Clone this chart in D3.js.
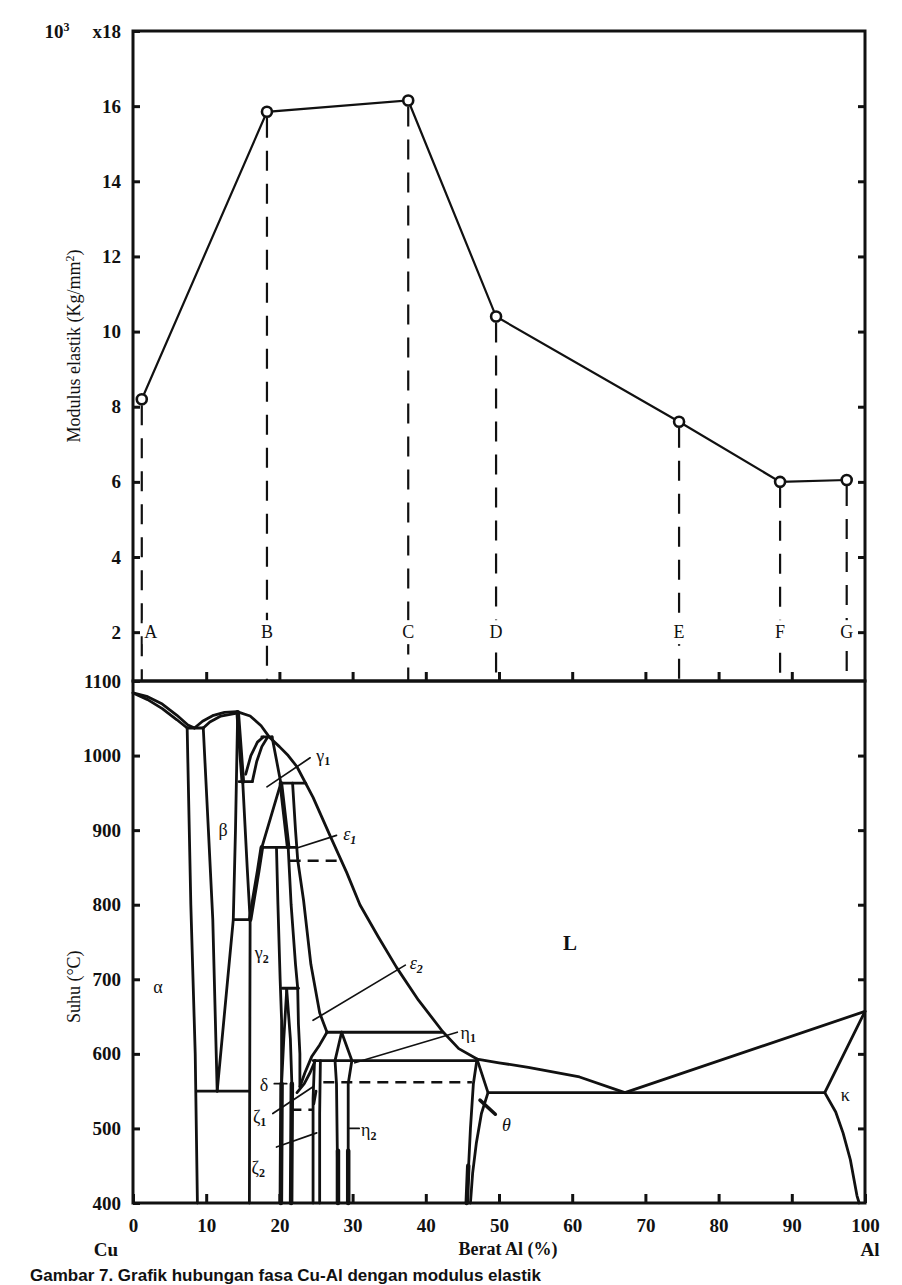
<!DOCTYPE html>
<html>
<head>
<meta charset="utf-8">
<script src="https://cdn.jsdelivr.net/npm/d3@7/dist/d3.min.js"></script>
<style>
  body { margin: 0; background: #fff; overflow: hidden; }
  svg { display: block; }
  text { font-family: "Liberation Serif", "Times New Roman", serif; fill: #111; }
</style>
</head>
<body>
<script>
// ---- data ----
const alloys = ['A', 'B', 'C', 'D', 'E', 'F', 'G'];
const alPct = [1.2, 18.3, 37.6, 49.6, 74.6, 88.4, 97.5];
const modulus = [8.2, 15.85, 16.15, 10.4, 7.6, 6.0, 6.05];

const modTicks = [2, 4, 6, 8, 10, 12, 14, 16, 18];
const tempTicks = [400, 500, 600, 700, 800, 900, 1000, 1100];
const pctTicks = [0, 10, 20, 30, 40, 50, 60, 70, 80, 90, 100];

// phase boundaries, [wt% Al, degC]
const phaseLines = [
  [[0,1084],[2,1079],[4,1069],[6,1054],[7.5,1041],[8.4,1037]],
  [[0,1084],[2,1075],[4,1063],[6,1048],[7.4,1037]],
  [[7.4,1037],[9.6,1037]],
  [[8.4,1037],[9.5,1046],[11,1054],[12.5,1058],[14.2,1059],[16,1053],[17.5,1040],[18.6,1025],[20,1012],[21.2,1000],[22.4,985],[24.6,944],[26.9,893],[29.2,843],[31,800],[33.5,757],[36,716],[39,672],[42.3,630],[44.5,607],[47,593],[50,588],[54,582],[61,569],[67.2,548]],
  [[9.6,1037],[10.5,1045],[12,1053],[14.2,1057]],
  [[7.4,1037],[7.9,800],[8.5,600],[8.8,400]],
  [[9.6,1037],[10.3,900],[10.9,780],[11.5,550]],
  [[14.3,1057],[14,900],[13.7,780],[11.5,550]],
  [[8.7,550],[15.9,550]],
  [[13.7,780],[16,780]],
  [[16,780],[15.9,400]],
  [[15,963],[15.6,850],[16,780]],
  [[14.5,965],[16.3,965]],
  [[16.3,965],[16.9,992],[17.6,1012],[18.4,1025]],
  [[15.4,975],[16.1,1000],[17,1018],[17.8,1025]],
  [[17.6,1025],[19,1025]],
  [[19,1025],[20.2,963]],
  [[20.2,963],[23.6,963]],
  [[20.2,963],[17.6,877]],
  [[17.6,877],[22.4,877]],
  [[19.6,877],[19.8,800],[20.1,700],[20.3,645],[20.3,560],[20.2,400]],
  [[21.2,877],[21.6,800],[22.2,720],[22.5,688]],
  [[21.8,963],[22.2,900],[22.5,860],[23.3,806],[24.3,720],[25.5,655],[26.5,629]],
  [[20.4,688],[22.6,688]],
  [[21,686],[20.6,620],[20.3,560]],
  [[21,686],[21.5,620],[21.7,560],[21.6,400]],
  [[22.5,688],[22.6,640],[22.8,600],[22.8,556]],
  [[26.5,629],[25.5,612],[24.4,596],[23.5,575],[22.8,556]],
  [[26.5,629],[42.3,629]],
  [[28.5,629],[27.6,591]],
  [[28.5,629],[29.9,591]],
  [[24.6,591],[47,591]],
  [[24.9,591],[24.2,575],[23.4,560],[22.4,548]],
  [[24.8,591],[24.6,540],[24.6,400]],
  [[25.6,591],[25.5,520],[25.5,400]],
  [[27.6,591],[27.8,560],[28,400]],
  [[29.9,591],[29.4,560],[29.4,400]],
  [[47,593],[46.5,560],[46.1,500],[45.6,400]],
  [[47,593],[48.5,548],[47.6,520],[46.9,480],[46.4,440],[46.1,400]],
  [[48.5,548],[94.5,548]],
  [[67.2,548],[100,657]],
  [[94.5,548],[100,657]],
  [[94.5,548],[96,522],[97,494],[98,458],[98.9,410],[99.2,400]],
  [[24.7,533],[25,550]]
];

const heavyLines = [
  [[14.3,1058],[15,965]],
  [[20.2,963],[20.7,920],[21.2,877]],
  [[16,780],[16.5,810],[17.1,845],[17.6,877]],
  [[20.3,560],[20.2,400]],
  [[21.7,560],[21.6,400]],
  [[45.8,450],[45.6,400]],
  [[28,470],[28,400]],
  [[29.4,470],[29.4,400]]
];

const dashedLines = [
  [[21.4,859],[28.4,859]],
  [[26,562],[46.3,562]],
  [[21.5,525],[24.6,525]]
];

const leaderLines = [
  [[18.3,958],[24.2,997]],
  [[22.4,876],[27.8,893]],
  [[24.6,645],[37.2,719]],
  [[30.3,588],[44.3,629]],
  [[29.4,500],[30.9,500]],
  [[19.3,560],[21,560]],
  [[19.1,520],[24.6,556]],
  [[19.6,475],[25.1,494]]
];
const thetaArrow = [[47.4,538],[49.5,519]];

const phaseNames = ['α', 'β', 'γ', 'γ', 'ε', 'ε', 'η', 'η', 'θ', 'L', 'κ', 'δ', 'ζ', 'ζ'];
const phaseSubs  = ['', '', '2', '1', '1', '2', '1', '2', '', '', '', '', '1', '2'];
const phaseAt    = [[3.4,690],[12.3,900],[17.6,735],[26,1000],[29.6,895],[38.7,722],[45.8,629],[32.2,498],[51,505],[59.7,749],[97.3,545],[17.9,558],[17.3,516],[17.1,448]];

// ---- layout ----
const W = 902, H = 1285;
const L = 133, R = 865, T0 = 31, MID = 681, B = 1203;

const svg = d3.select('body').append('svg')
  .attr('width', W).attr('height', H);

const x = d3.scaleLinear().domain([0, 100]).range([L, R]);
const yM = d3.scaleLinear().domain([0.7, 18]).range([MID, T0]);
const yT = d3.scaleLinear().domain([400, 1100]).range([B, MID]);

const line = d3.line().x(d => x(d[0])).y(d => yT(d[1]));

// ---- top panel ----
const upper = svg.append('g');

// dashed drops
upper.selectAll('line.drop')
  .data(alloys)
  .enter().append('line')
  .attr('class', 'drop')
  .attr('x1', (d, i) => x(alPct[i]))
  .attr('x2', (d, i) => x(alPct[i]))
  .attr('y1', (d, i) => yM(modulus[i]) + 6)
  .attr('y2', MID)
  .attr('stroke', '#111').attr('stroke-width', 2.2)
  .attr('stroke-dasharray', '20,13');

// alloy letters with a blank behind them
const labs = upper.selectAll('g.lab')
  .data(alloys)
  .enter().append('g')
  .attr('transform', (d, i) => `translate(${x(alPct[i]) + (i === 0 ? 9 : 0)},${yM(2)})`);
labs.append('rect')
  .attr('x', -8).attr('y', -12).attr('width', 16).attr('height', 24)
  .attr('fill', '#fff');
labs.append('text')
  .attr('text-anchor', 'middle').attr('dy', '0.35em')
  .style('font-size', '18px')
  .text(d => d);

upper.append('path')
  .datum(alloys.map((d, i) => [alPct[i], modulus[i]]))
  .attr('d', d3.line().x(d => x(d[0])).y(d => yM(d[1])))
  .attr('fill', 'none').attr('stroke', '#111').attr('stroke-width', 2.2);

upper.selectAll('circle')
  .data(alloys)
  .enter().append('circle')
  .attr('cx', (d, i) => x(alPct[i]))
  .attr('cy', (d, i) => yM(modulus[i]))
  .attr('r', 5)
  .attr('fill', '#fff').attr('stroke', '#111').attr('stroke-width', 2.6);

// ---- bottom panel: phase diagram ----
const ph = svg.append('g').attr('fill', 'none').attr('stroke', '#111')
  .attr('stroke-linejoin', 'round').attr('stroke-linecap', 'round');

ph.selectAll('path.bd').data(phaseLines).enter().append('path')
  .attr('d', line).attr('stroke-width', 2.8);
ph.selectAll('path.hv').data(heavyLines).enter().append('path')
  .attr('d', line).attr('stroke-width', 4.5);
ph.selectAll('path.ds').data(dashedLines).enter().append('path')
  .attr('d', line).attr('stroke-width', 2.4).attr('stroke-dasharray', '11,7')
  .attr('stroke-linecap', 'butt');
ph.selectAll('path.ld').data(leaderLines).enter().append('path')
  .attr('d', line).attr('stroke-width', 1.7);
ph.append('path').datum(thetaArrow).attr('d', line).attr('stroke-width', 3.5);

const pl = svg.selectAll('text.ph').data(phaseNames).enter().append('text')
  .attr('class', 'ph')
  .attr('x', (d, i) => x(phaseAt[i][0]))
  .attr('y', (d, i) => yT(phaseAt[i][1]))
  .attr('text-anchor', 'middle').attr('dy', '0.35em')
  .style('font-size', (d, i) => d === 'L' ? '21px' : '18px')
  .style('font-weight', d => d === 'L' ? 'bold' : 'normal')
  .style('font-style', d => (d === 'θ' || d === 'ε') ? 'italic' : 'normal');
pl.append('tspan').text(d => d);
pl.append('tspan')
  .attr('dy', '0.3em').style('font-size', '12px').style('font-weight', 'bold')
  .text((d, i) => phaseSubs[i]);

// ---- frames and axes ----
svg.append('rect').attr('x', L).attr('y', T0).attr('width', R - L).attr('height', MID - T0)
  .attr('fill', 'none').attr('stroke', '#111').attr('stroke-width', 3);
svg.append('rect').attr('x', L).attr('y', MID).attr('width', R - L).attr('height', B - MID)
  .attr('fill', 'none').attr('stroke', '#111').attr('stroke-width', 3);

function styleAxis(g) {
  g.select('.domain').remove();
  g.selectAll('.tick line').attr('stroke', '#111').attr('stroke-width', 3);
  g.selectAll('.tick text').style('font-size', '19px').attr('fill', '#111')
    .style('font-weight', 'bold')
    .style('font-family', '"Liberation Serif", serif');
}

svg.append('g').attr('transform', `translate(${L},0)`)
  .call(d3.axisLeft(yM).tickValues(modTicks).tickSize(-7).tickPadding(12)
    .tickFormat(d => d === 18 ? 'x18' : d))
  .call(styleAxis);
svg.append('g').attr('transform', `translate(${R},0)`)
  .call(d3.axisRight(yM).tickValues(modTicks.slice(0, -1)).tickSize(-7).tickFormat(''))
  .call(styleAxis);
svg.append('text').attr('x', 57).attr('y', T0 + 7).attr('text-anchor', 'middle')
  .style('font-size', '19px').style('font-weight', 'bold')
  .html('10<tspan dy="-7" style="font-size:12px">3</tspan>');

svg.append('g').attr('transform', `translate(${L},0)`)
  .call(d3.axisLeft(yT).tickValues(tempTicks).tickSize(-7).tickPadding(12)
    .tickFormat(d3.format('d')))
  .call(styleAxis);
svg.append('g').attr('transform', `translate(${R},0)`)
  .call(d3.axisRight(yT).tickValues(tempTicks.slice(1, -1)).tickSize(-7).tickFormat(''))
  .call(styleAxis);

svg.append('g').attr('transform', `translate(0,${B})`)
  .call(d3.axisBottom(x).tickValues(pctTicks).tickSize(-9).tickPadding(16)
    .tickFormat(d3.format('d')))
  .call(styleAxis);
svg.append('g').attr('transform', `translate(0,${MID})`)
  .call(d3.axisBottom(x).tickValues(pctTicks.slice(1, -1)).tickSize(-9).tickFormat(''))
  .call(styleAxis);

// titles
svg.append('text')
  .attr('transform', `translate(80,${(T0 + MID) / 2 - 10}) rotate(-90)`)
  .attr('text-anchor', 'middle').style('font-size', '18px')
  .html('Modulus elastik (Kg/mm<tspan dy="-6" style="font-size:12px">2</tspan><tspan dy="6">)</tspan>');
svg.append('text')
  .attr('transform', `translate(80,${yT(690)}) rotate(-90)`)
  .attr('text-anchor', 'middle').style('font-size', '18px')
  .text('Suhu (°C)');
svg.append('text').attr('x', 508).attr('y', 1255).attr('text-anchor', 'middle')
  .style('font-size', '18px').style('font-weight', 'bold').text('Berat Al (%)');
svg.append('text').attr('x', 106).attr('y', 1256).attr('text-anchor', 'middle')
  .style('font-size', '19px').style('font-weight', 'bold').text('Cu');
svg.append('text').attr('x', 870).attr('y', 1256).attr('text-anchor', 'middle')
  .style('font-size', '19px').style('font-weight', 'bold').text('Al');

// caption at the foot of the page
svg.append('text').attr('x', 30).attr('y', 1281)
  .style('font-family', '"Liberation Sans", Arial, sans-serif')
  .style('font-weight', 'bold').style('font-size', '17px')
  .text('Gambar 7. Grafik hubungan fasa Cu-Al dengan modulus elastik');
</script>
</body>
</html>
